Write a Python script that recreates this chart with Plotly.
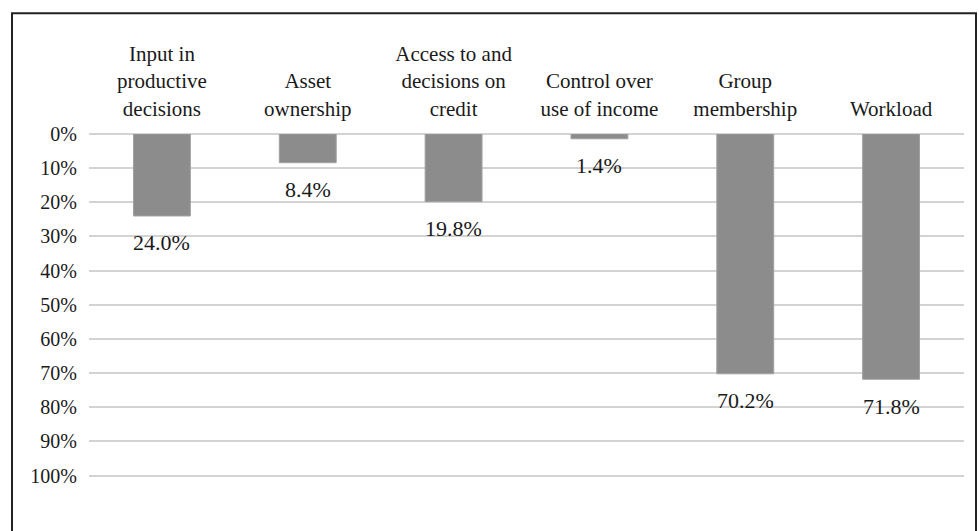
import plotly.graph_objects as go

categories = ["Input in<br>productive<br>decisions", "Asset<br>ownership",
              "Access to and<br>decisions on<br>credit", "Control over<br>use of income",
              "Group<br>membership", "Workload"]
values = [24.0, 8.4, 19.8, 1.4, 70.2, 71.8]
value_labels = ["24.0%", "8.4%", "19.8%", "1.4%", "70.2%", "71.8%"]
y_tick_values = [0, 10, 20, 30, 40, 50, 60, 70, 80, 90, 100]
y_tick_labels = ["0%", "10%", "20%", "30%", "40%", "50%", "60%", "70%", "80%", "90%", "100%"]

FONT = "'Liberation Serif', 'Times New Roman', Times, serif"
TXT = "#1a1a1a"

fig = go.Figure()
fig.add_trace(go.Bar(
    x=categories, y=values,
    marker=dict(color="#8c8c8c", line=dict(color="#a0a0a0", width=1)),
    hoverinfo="skip",
))

for c, v, t in zip(categories, values, value_labels):
    fig.add_annotation(x=c, y=v, text=t, showarrow=False, yanchor="middle",
                       yshift=-27, font=dict(family=FONT, size=22, color=TXT))

W, H = 979, 531
YMAX = 101
L = 89
T = 134
plot_right = 964
R = W - plot_right
plot_bottom = 476 + (YMAX - 100) * 3.42
B = H - plot_bottom
pw, ph = W - L - R, plot_bottom - T
# outer frame
fig.add_shape(type="rect", xref="paper", yref="paper",
              x0=(12 - L) / pw, x1=(976 - L) / pw,
              y0=-(545 - plot_bottom) / ph, y1=(plot_bottom - 13) / ph,
              line=dict(color="#222222", width=2), fillcolor="rgba(0,0,0,0)", layer="below")

fig.update_layout(
    width=W, height=H,
    margin=dict(l=L, r=R, t=T, b=B, pad=0),
    paper_bgcolor="white", plot_bgcolor="white",
    bargap=0.61, showlegend=False,
    font=dict(family=FONT, size=21, color=TXT),
    xaxis=dict(side="top", showgrid=False, showline=False, zeroline=False,
               ticks="", tickfont=dict(family=FONT, size=21, color=TXT),
               ticklabelstandoff=13),
    yaxis=dict(range=[YMAX, 0], tickmode="array", tickvals=y_tick_values,
               ticktext=y_tick_labels, showgrid=True,
               gridcolor="#d3d3d3", gridwidth=2, zeroline=True, zerolinecolor="#d3d3d3",
               zerolinewidth=2, showline=False, ticks="",
               tickfont=dict(family=FONT, size=20, color=TXT), ticklabelstandoff=11),
)

fig.write_html("out.html", config={"displayModeBar": False},
               post_script="document.body.style.margin='0';document.body.style.overflow='hidden';")
